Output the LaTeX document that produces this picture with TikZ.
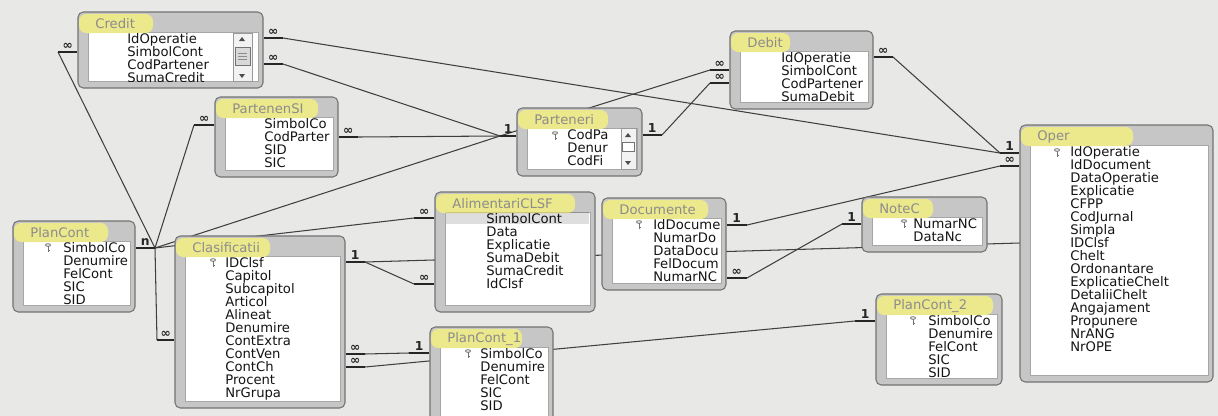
\documentclass[tikz,border=0pt]{standalone}
\usepackage{fontspec}
\setmainfont{DejaVu Sans}
\usetikzlibrary{positioning,fit,calc}

\definecolor{hartie}{RGB}{232,232,230}
\definecolor{marcaj}{RGB}{236,232,140}
\definecolor{rama}{RGB}{198,198,198}

\tikzstyle{tabframe} = [draw=black!55, fill=rama, rounded corners=3pt, inner sep=0pt, line width=0.6pt]
\tikzstyle{lista} = [fill=white, draw=black!35, line width=0.4pt]
\tikzstyle{titlu} = [anchor=west, inner sep=0pt, text=black!45, font=\fontsize{7.5}{8}\selectfont]
\tikzstyle{camp} = [anchor=west, inner sep=0pt, text height=5.5pt, text depth=0.8pt, text=black!92, font=\fontsize{7.5}{8}\selectfont]
\tikzstyle{stub} = [line width=1.7pt, black!85]
\tikzstyle{leg} = [line width=0.6pt, black!75]
\tikzstyle{card} = [inner sep=0pt, text=black!85, font=\fontsize{7}{7}\bfseries\selectfont]

\tikzset{cheie/.pic={
  \draw[black!55, line width=0.5pt] (0,-3) ellipse [x radius=2.5, y radius=1.3];
  \draw[black!55, line width=0.5pt] (0,-1.7) -- (0,3.5) (0,2.5) -- (1.5,2.5);
}}

% table window: name, corners, title, end of the marker, text x, fields
\newcommand{\tabel}[9]{%
  \node[tabframe, fit={(#2,#3) (#4,#5)}] (#1) {};
  \draw[lista] (#2+10,#3+20) rectangle (#4-5,#5-7);
  \fill[marcaj, rounded corners=4pt] (#2+1,#3+2) rectangle (#7,#3+21);
  \node[titlu] (#1-t) at (#2+17,#3+12) {#6};
  \begin{scope}
    \clip (#2+10,#3+20) rectangle (#4-5,#5-7);
    \foreach \nume [count=\i] in {#9}
      \node[camp] (#1-\i) at (#8,#3+14+13*\i) {\nume};
  \end{scope}
}

% end of a relationship: outer point, table edge, sign
\newcommand{\capat}[3]{%
  \draw[stub] (#1) -- (#2 |- #1);
  \node[card, above=1pt] (#1-s) at ($(#1)!.5!(#2 |- #1)$) {#3};
}

\begin{document}
\begin{tikzpicture}[x=0.02cm, y=-0.02cm]
  \clip (0,0) rectangle (1218,416);
  \fill[hartie] (0,0) rectangle (1218,416);

  % ends of the relationship lines
  \coordinate (cr-l) at (58,52);
  \coordinate (cr-r1) at (283,38);
  \coordinate (cr-r2) at (283,64);
  \coordinate (ps-l) at (194,125);
  \coordinate (ps-r) at (358,137);
  \coordinate (pa-l) at (500,136);
  \coordinate (pa-r) at (662,135);
  \coordinate (de-l1) at (710,70);
  \coordinate (de-l2) at (710,83);
  \coordinate (de-r) at (893,57);
  \coordinate (op-l1) at (1000,153);
  \coordinate (op-l2) at (1000,166);
  \coordinate (op-l3) at (1020,243);
  \coordinate (pc-r) at (155,248);
  \coordinate (cl-l) at (157,340);
  \coordinate (cl-r1) at (365,262);
  \coordinate (cl-r2) at (365,354);
  \coordinate (cl-r3) at (365,367);
  \coordinate (al-l1) at (414,218);
  \coordinate (al-l2) at (414,284);
  \coordinate (do-r1) at (747,225);
  \coordinate (do-r2) at (747,278);
  \coordinate (nc-l) at (842,224);
  \coordinate (p1-l) at (409,353);
  \coordinate (p2-l) at (855,321);

  % relationships, drawn behind the tables
  \draw[leg] (pc-r) -- (cr-l);
  \draw[leg] (pc-r) -- (ps-l);
  \draw[leg] (pc-r) -- (pa-l);
  \draw[leg] (pc-r) -- (al-l1);
  \draw[leg] (pc-r) -- (cl-l);
  \draw[leg] (cr-r2) -- (pa-l);
  \draw[leg] (ps-r) -- (pa-l);
  \draw[leg] (pa-l) -- (de-l1);
  \draw[leg] (pa-r) -- (de-l2);
  \draw[leg] (de-r) -- (op-l1);
  \draw[leg] (cr-r1) -- (op-l1);
  \draw[leg] (do-r1) -- (op-l2);
  \draw[leg] (do-r2) -- (nc-l);
  \draw[leg] (cl-r1) -- (op-l3);
  \draw[leg] (cl-r1) -- (al-l2);
  \draw[leg] (cl-r2) -- (p1-l);
  \draw[leg] (cl-r3) -- (p2-l);

  % tables
  \tabel{credit}{78}{12}{263}{88}{Credit}{153}{127}{IdOperatie,SimbolCont,CodPartener,SumaCredit}
  \tabel{partenensi}{215}{97}{338}{177}{PartenenSI}{318}{264}{SimbolCo,CodParter,SID,SIC}
  \tabel{parteneri}{517}{108}{642}{176}{Parteneri}{608}{567}{CodPa,Denur,CodFi}
  \tabel{debit}{730}{31}{873}{109}{Debit}{790}{781}{IdOperatie,SimbolCont,CodPartener,SumaDebit}
  \tabel{oper}{1020}{125}{1213}{382}{Oper}{1133}{1070}{IdOperatie,IdDocument,DataOperatie,Explicatie,CFPP,CodJurnal,Simpla,IDClsf,Chelt,Ordonantare,ExplicatieChelt,DetaliiChelt,Angajament,Propunere,NrANG,NrOPE}
  \tabel{plancont}{13}{221}{135}{312}{PlanCont}{108}{63}{SimbolCo,Denumire,FelCont,SIC,SID}
  \tabel{clasificatii}{175}{236}{345}{408}{Clasificatii}{270}{225}{IDClsf,Capitol,Subcapitol,Articol,Alineat,Denumire,ContExtra,ContVen,ContCh,Procent,NrGrupa}
  \tabel{alimentari}{435}{192}{595}{312}{AlimentariCLSF}{575}{486}{SimbolCont,Data,Explicatie,SumaDebit,SumaCredit,IdClsf}
  \tabel{documente}{602}{198}{726}{290}{Documente}{708}{653}{IdDocume,NumarDo,DataDocu,FelDocum,NumarNC}
  \tabel{notec}{862}{197}{987}{252}{NoteC}{933}{913}{NumarNC,DataNc}
  \tabel{plancont1}{430}{327}{553}{424}{PlanCont\_1}{522}{480}{SimbolCo,Denumire,FelCont,SIC,SID}
  \tabel{plancont2}{876}{294}{1002}{385}{PlanCont\_2}{993}{928}{SimbolCo,Denumire,FelCont,SIC,SID}

  % selected field
  \fill[black, opacity=.13] (446,212) rectangle (589,224);

  % primary keys
  \pic at (1057,153) {cheie};
  \pic at (48,248) {cheie};
  \pic at (213,263) {cheie};
  \pic at (555,136) {cheie};
  \pic at (639,225) {cheie};
  \pic at (904,224) {cheie};
  \pic at (468,354) {cheie};
  \pic at (913,321) {cheie};

  % scroll bars
  \draw[black!40, fill=black!5] (233,33) rectangle (252,81);
  \fill[black!70] (239,41) -- (245,41) -- (242,37) -- cycle;
  \draw[black!55, fill=black!15] (235,47) rectangle (250,65);
  \draw[black!45] (238,53) -- (247,53) (238,56) -- (247,56) (238,59) -- (247,59);
  \fill[black!70] (239,74) -- (245,74) -- (242,78) -- cycle;
  \draw[black!40, fill=black!5] (621,128) rectangle (636,169);
  \fill[black!70] (625,137) -- (631,137) -- (628,133) -- cycle;
  \draw[black!55, fill=white] (622,142) rectangle (634,151);
  \fill[black!70] (625,161) -- (631,161) -- (628,165) -- cycle;

  % relationship ends
  \capat{cr-l}{credit.west}{∞}
  \capat{cr-r1}{credit.east}{∞}
  \capat{cr-r2}{credit.east}{∞}
  \capat{ps-l}{partenensi.west}{∞}
  \capat{ps-r}{partenensi.east}{∞}
  \capat{pa-l}{parteneri.west}{1}
  \capat{pa-r}{parteneri.east}{1}
  \capat{de-l1}{debit.west}{∞}
  \capat{de-l2}{debit.west}{∞}
  \capat{de-r}{debit.east}{∞}
  \capat{op-l1}{oper.west}{1}
  \capat{op-l2}{oper.west}{∞}
  \capat{pc-r}{plancont.east}{n}
  \capat{cl-l}{clasificatii.west}{∞}
  \capat{cl-r1}{clasificatii.east}{1}
  \capat{cl-r2}{clasificatii.east}{∞}
  \capat{cl-r3}{clasificatii.east}{∞}
  \capat{al-l1}{alimentari.west}{∞}
  \capat{al-l2}{alimentari.west}{∞}
  \capat{do-r1}{documente.east}{1}
  \capat{do-r2}{documente.east}{∞}
  \capat{nc-l}{notec.west}{1}
  \capat{p1-l}{plancont1.west}{1}
  \capat{p2-l}{plancont2.west}{1}
\end{tikzpicture}
\end{document}
